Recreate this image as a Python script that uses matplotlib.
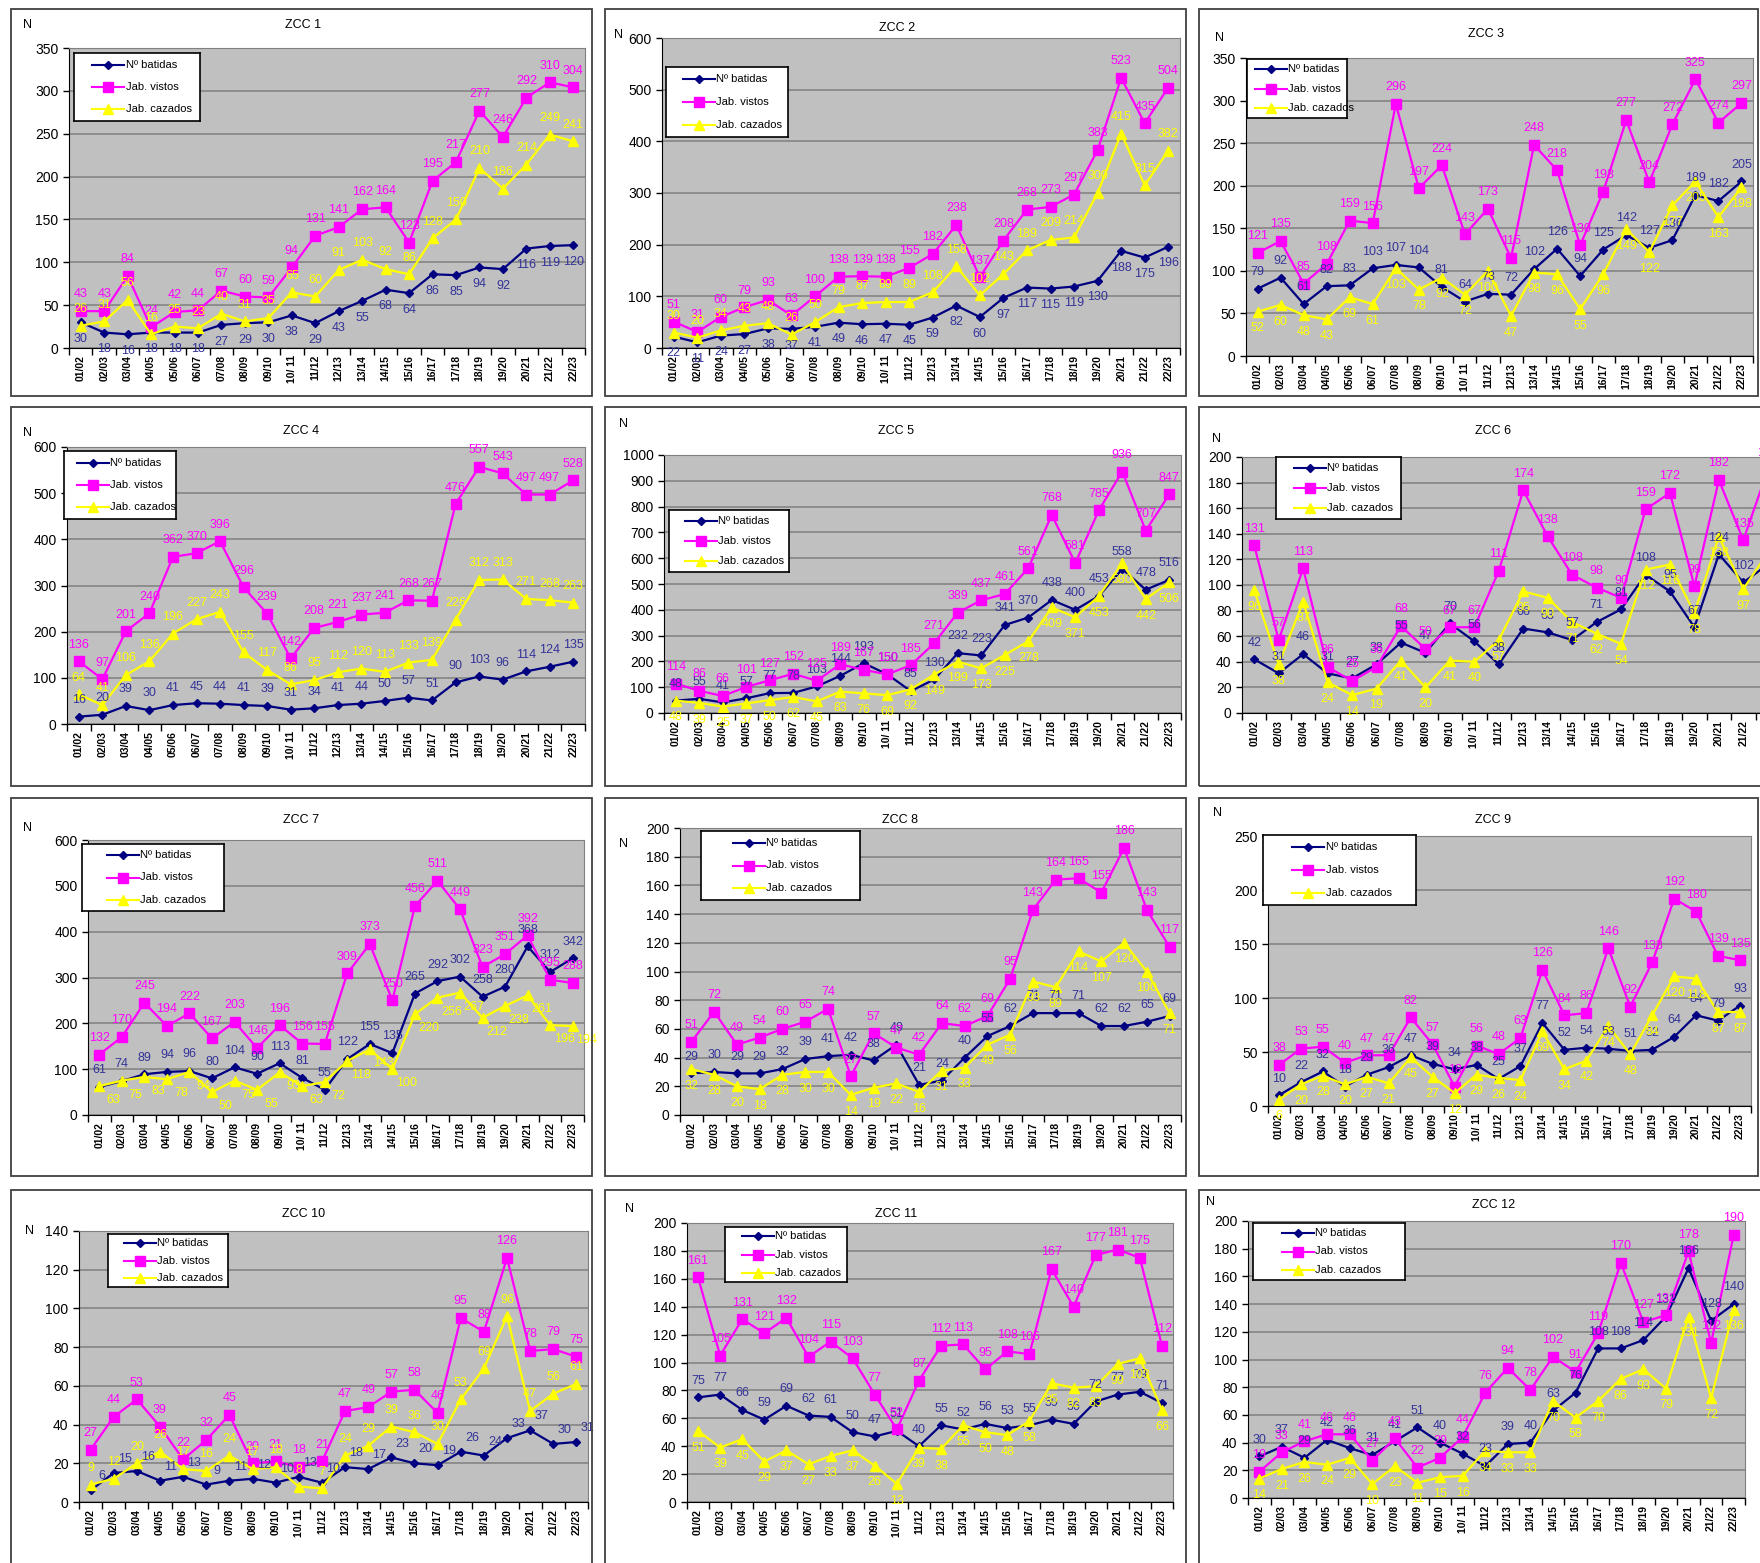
import matplotlib
matplotlib.use('Agg')
import matplotlib.pyplot as plt
from matplotlib.patches import Rectangle

plt.rcParams['font.family'] = ['Liberation Sans', 'DejaVu Sans']

seasons = ['01/02', '02/03', '03/04', '04/05', '05/06', '06/07', '07/08', '08/09',
           '09/10', '10/ 11', '11/12', '12/13', '13/14', '14/15', '15/16', '16/17',
           '17/18', '18/19', '19/20', '20/21', '21/22', '22/23']

zcc1_batidas = [30, 18, 16, 18, 18, 18, 27, 29, 30, 38, 29, 43, 55, 68, 64, 86, 85, 94, 92, 116, 119, 120]
zcc1_vistos = [43, 43, 84, 24, 42, 44, 67, 60, 59, 94, 131, 141, 162, 164, 123, 195, 217, 277, 246, 292, 310, 304]
zcc1_cazados = [26, 31, 56, 16, 25, 23, 40, 31, 35, 65, 60, 91, 103, 92, 86, 128, 150, 210, 186, 214, 249, 241]

zcc2_batidas = [22, 11, 24, 27, 38, 37, 41, 49, 46, 47, 45, 59, 82, 60, 97, 117, 115, 119, 130, 188, 175, 196]
zcc2_vistos = [51, 31, 60, 79, 93, 63, 100, 138, 139, 138, 155, 182, 238, 137, 208, 268, 273, 297, 383, 523, 435, 504]
zcc2_cazados = [30, 20, 34, 43, 48, 26, 50, 79, 87, 89, 89, 108, 158, 102, 143, 189, 209, 214, 300, 415, 315, 382]

zcc3_batidas = [79, 92, 61, 82, 83, 103, 107, 104, 81, 64, 73, 72, 102, 126, 94, 125, 142, 127, 136, 189, 182, 205]
zcc3_vistos = [121, 135, 85, 108, 159, 156, 296, 197, 224, 143, 173, 115, 248, 218, 130, 193, 277, 204, 272, 325, 274, 297]
zcc3_cazados = [52, 60, 48, 43, 69, 61, 103, 78, 92, 72, 100, 47, 98, 96, 55, 96, 149, 122, 177, 205, 163, 198]

zcc4_batidas = [16, 20, 39, 30, 41, 45, 44, 41, 39, 31, 34, 41, 44, 50, 57, 51, 90, 103, 96, 114, 124, 135]
zcc4_vistos = [136, 97, 201, 240, 362, 370, 396, 296, 239, 142, 208, 221, 237, 241, 268, 267, 476, 557, 543, 497, 497, 528]
zcc4_cazados = [64, 41, 106, 136, 196, 227, 243, 155, 117, 86, 95, 112, 120, 113, 133, 139, 226, 312, 313, 271, 268, 263]

zcc5_batidas = [48, 55, 41, 57, 77, 78, 103, 144, 193, 150, 85, 130, 232, 223, 341, 370, 438, 400, 453, 558, 478, 516]
zcc5_vistos = [114, 86, 66, 101, 127, 152, 125, 189, 167, 150, 185, 271, 389, 437, 461, 561, 768, 581, 785, 936, 707, 847]
zcc5_cazados = [48, 39, 25, 37, 50, 62, 45, 83, 76, 69, 92, 149, 199, 173, 225, 278, 409, 371, 453, 580, 442, 506]

zcc6_batidas = [42, 31, 46, 31, 27, 38, 55, 47, 70, 56, 38, 66, 63, 57, 71, 81, 108, 95, 67, 124, 102, 116]
zcc6_vistos = [131, 57, 113, 36, 25, 36, 68, 50, 67, 67, 111, 174, 138, 108, 98, 90, 159, 172, 99, 182, 135, 190]
zcc6_cazados = [96, 38, 87, 24, 14, 19, 41, 20, 41, 40, 57, 95, 90, 71, 62, 54, 112, 116, 78, 138, 97, 125]

zcc7_batidas = [61, 74, 89, 94, 96, 80, 104, 90, 113, 81, 55, 122, 155, 135, 265, 292, 302, 258, 280, 368, 312, 342]
zcc7_vistos = [132, 170, 245, 194, 222, 167, 203, 146, 196, 156, 155, 309, 373, 250, 456, 511, 449, 323, 351, 392, 295, 288]
zcc7_cazados = [63, 75, 83, 78, 94, 50, 75, 55, 93, 63, 72, 118, 143, 100, 220, 256, 267, 212, 238, 261, 196, 194]

zcc8_batidas = [29, 30, 29, 29, 32, 39, 41, 42, 38, 49, 21, 24, 40, 55, 62, 71, 71, 71, 62, 62, 65, 69]
zcc8_vistos = [51, 72, 49, 54, 60, 65, 74, 27, 57, 47, 42, 64, 62, 69, 95, 143, 164, 165, 155, 186, 143, 117]
zcc8_cazados = [32, 28, 20, 18, 28, 30, 30, 14, 19, 22, 16, 31, 33, 49, 56, 93, 89, 114, 107, 120, 100, 71]

zcc9_batidas = [10, 22, 32, 18, 29, 36, 47, 39, 34, 38, 25, 37, 77, 52, 54, 53, 51, 52, 64, 84, 79, 93]
zcc9_vistos = [38, 53, 55, 40, 47, 47, 82, 57, 18, 56, 48, 63, 126, 84, 86, 146, 92, 133, 192, 180, 139, 135]
zcc9_cazados = [6, 20, 28, 20, 27, 21, 45, 27, 12, 29, 26, 24, 69, 34, 42, 74, 48, 84, 120, 118, 87, 87]

zcc10_batidas = [6, 15, 16, 11, 13, 9, 11, 12, 10, 13, 10, 18, 17, 23, 20, 19, 26, 24, 33, 37, 30, 31]
zcc10_vistos = [27, 44, 53, 39, 22, 32, 45, 20, 21, 18, 21, 47, 49, 57, 58, 46, 95, 88, 126, 78, 79, 75]
zcc10_cazados = [9, 12, 20, 26, 17, 16, 24, 17, 18, 8, 7, 24, 29, 39, 36, 30, 53, 69, 96, 47, 56, 61]

zcc11_batidas = [75, 77, 66, 59, 69, 62, 61, 50, 47, 51, 40, 55, 52, 56, 53, 55, 59, 56, 72, 77, 79, 71]
zcc11_vistos = [161, 105, 131, 121, 132, 104, 115, 103, 77, 52, 87, 112, 113, 95, 108, 106, 167, 140, 177, 181, 175, 112]
zcc11_cazados = [51, 39, 45, 29, 37, 27, 33, 37, 26, 13, 39, 38, 55, 50, 48, 58, 85, 82, 83, 99, 103, 66]

zcc12_batidas = [30, 37, 29, 42, 36, 31, 41, 51, 40, 32, 23, 39, 40, 63, 76, 108, 108, 114, 131, 166, 128, 140]
zcc12_vistos = [19, 33, 41, 46, 46, 27, 43, 22, 29, 44, 76, 94, 78, 102, 91, 119, 170, 127, 132, 178, 112, 190]
zcc12_cazados = [14, 21, 26, 24, 29, 10, 23, 11, 15, 16, 34, 33, 33, 70, 58, 70, 86, 93, 79, 131, 72, 136]

series = [
    (zcc1_batidas, zcc1_vistos, zcc1_cazados),
    (zcc2_batidas, zcc2_vistos, zcc2_cazados),
    (zcc3_batidas, zcc3_vistos, zcc3_cazados),
    (zcc4_batidas, zcc4_vistos, zcc4_cazados),
    (zcc5_batidas, zcc5_vistos, zcc5_cazados),
    (zcc6_batidas, zcc6_vistos, zcc6_cazados),
    (zcc7_batidas, zcc7_vistos, zcc7_cazados),
    (zcc8_batidas, zcc8_vistos, zcc8_cazados),
    (zcc9_batidas, zcc9_vistos, zcc9_cazados),
    (zcc10_batidas, zcc10_vistos, zcc10_cazados),
    (zcc11_batidas, zcc11_vistos, zcc11_cazados),
    (zcc12_batidas, zcc12_vistos, zcc12_cazados),
]
y_max = [350, 600, 350, 600, 1000, 200, 600, 200, 250, 140, 200, 200]
y_step = [50, 100, 50, 100, 100, 20, 100, 20, 50, 20, 20, 20]

# series styles: name, line colour, marker, marker size, label colour
STYLES = [
    ('Nº batidas', '#000080', 'D', 4, '#333399'),
    ('Jab. vistos', '#FF00FF', 's', 7, '#FF00FF'),
    ('Jab. cazados', '#FFFF00', '^', 7, '#FFFF00'),
]

UP, DOWN = (0, 12), (0, -12)

# layout in pixels: frame, plot area, legend box, title xy, "N" xy, label offsets
layout = [
    dict(frame=(11, 9, 592, 396), plot=(69, 48, 585, 348), leg=(74, 53, 200, 121),
         title=(303, 25), n=(27, 25), offs=(DOWN, UP, UP)),
    dict(frame=(605, 9, 1186, 396), plot=(662, 38, 1180, 348), leg=(666, 67, 788, 137),
         title=(897, 28), n=(618, 35), offs=(DOWN, UP, UP)),
    dict(frame=(1199, 9, 1758, 396), plot=(1246, 58, 1753, 356), leg=(1247, 59, 1347, 118),
         title=(1486, 34), n=(1219, 38), offs=(UP, UP, DOWN)),
    dict(frame=(11, 407, 592, 786), plot=(67, 447, 585, 724), leg=(64, 451, 176, 519),
         title=(301, 431), n=(28, 433), offs=(UP, UP, UP)),
    dict(frame=(605, 407, 1186, 786), plot=(664, 455, 1181, 713), leg=(669, 510, 789, 572),
         title=(896, 431), n=(623, 424), offs=(UP, UP, DOWN)),
    dict(frame=(1199, 407, 1800, 786), plot=(1242, 457, 1780, 713), leg=(1276, 457, 1401, 519),
         title=(1493, 431), n=(1216, 439), offs=(UP, UP, DOWN)),
    dict(frame=(11, 798, 592, 1176), plot=(88, 840, 584, 1115), leg=(82, 844, 224, 911),
         title=(301, 820), n=(28, 828), offs=(UP, UP, (10, -10))),
    dict(frame=(605, 798, 1186, 1176), plot=(680, 828, 1181, 1115), leg=(701, 831, 860, 900),
         title=(900, 820), n=(623, 844), offs=(UP, UP, DOWN)),
    dict(frame=(1199, 798, 1758, 1176), plot=(1268, 836, 1751, 1106), leg=(1263, 835, 1416, 905),
         title=(1493, 820), n=(1218, 813), offs=(UP, UP, DOWN)),
    dict(frame=(11, 1190, 592, 1600), plot=(79, 1231, 588, 1502), leg=(108, 1234, 228, 1287),
         title=(304, 1214), n=(30, 1231), offs=((8, 10), UP, UP)),
    dict(frame=(605, 1190, 1186, 1600), plot=(687, 1223, 1173, 1502), leg=(725, 1227, 847, 1282),
         title=(896, 1214), n=(629, 1209), offs=(UP, UP, DOWN)),
    dict(frame=(1199, 1190, 1800, 1600), plot=(1248, 1221, 1745, 1498), leg=(1253, 1223, 1405, 1280),
         title=(1494, 1205), n=(1210, 1202), offs=(UP, UP, DOWN)),
]

W, H = 1760, 1563
fig = plt.figure(figsize=(W / 100, H / 100), dpi=100)


def fbox(x0, y0, x1, y1):
    return [x0 / W, 1 - y1 / H, (x1 - x0) / W, (y1 - y0) / H]


def draw_legend(box):
    lax = fig.add_axes(fbox(*box))
    lax.set_xlim(0, 1)
    lax.set_ylim(0, 1)
    lax.set_xticks([])
    lax.set_yticks([])
    lax.set_facecolor('white')
    for sp in lax.spines.values():
        sp.set_color('black')
        sp.set_linewidth(1.2)
    width = box[2] - box[0]
    x_end = 0.40
    x_start = x_end - 32 / width
    for (name, color, marker, ms, _), y in zip(STYLES, [0.83, 0.5, 0.17]):
        lax.plot([x_start, x_end], [y, y], color=color, lw=1.5)
        lax.plot([(x_start + x_end) / 2], [y], marker=marker, color=color, ms=ms)
        lax.text(x_end + 0.01, y, name, va='center', ha='left', fontsize=8)


x = list(range(len(seasons)))

for k, (cfg, data) in enumerate(zip(layout, series)):
    x0, y0, x1, y1 = cfg['frame']
    fig.add_artist(Rectangle((x0 / W, 1 - y1 / H), (x1 - x0) / W, (y1 - y0) / H,
                             transform=fig.transFigure, fill=False,
                             edgecolor='#404040', lw=1.3))

    ax = fig.add_axes(fbox(*cfg['plot']))
    ax.set_facecolor('#C0C0C0')
    ax.set_xlim(-0.5, len(seasons) - 0.5)
    ax.set_ylim(0, y_max[k])
    ax.set_yticks(range(0, y_max[k] + 1, y_step[k]))
    ax.yaxis.grid(True, color='#808080', lw=1.1)
    ax.set_axisbelow(True)
    ax.tick_params(axis='y', labelsize=10, length=4, width=1)

    ax.set_xticks(x)
    ax.set_xticklabels(seasons, rotation=90, fontsize=7.5, fontweight='bold')
    ax.set_xticks([i - 0.5 for i in range(len(seasons) + 1)], minor=True)
    ax.tick_params(axis='x', which='major', length=0, pad=5)
    ax.tick_params(axis='x', which='minor', length=5, width=1)

    for side in ('top', 'right'):
        ax.spines[side].set_color('#808080')
    for side in ('left', 'bottom'):
        ax.spines[side].set_color('black')

    for vals, (name, color, marker, ms, lab_color), off in zip(data, STYLES, cfg['offs']):
        ax.plot(x, vals, color=color, lw=1.6, marker=marker, ms=ms,
                markeredgecolor=color, clip_on=False)
        for xi, v in zip(x, vals):
            ax.annotate(str(v), (xi, v), xytext=off, textcoords='offset points',
                        ha='center', va='center', fontsize=9, color=lab_color,
                        annotation_clip=False)

    draw_legend(cfg['leg'])

    tx, ty = cfg['title']
    fig.text(tx / W, 1 - ty / H, 'ZCC %d' % (k + 1), ha='center', va='center', fontsize=9)
    nx, ny = cfg['n']
    fig.text(nx / W, 1 - ny / H, 'N', ha='center', va='center', fontsize=9)

fig.savefig('out.png', dpi=100, facecolor='white')
